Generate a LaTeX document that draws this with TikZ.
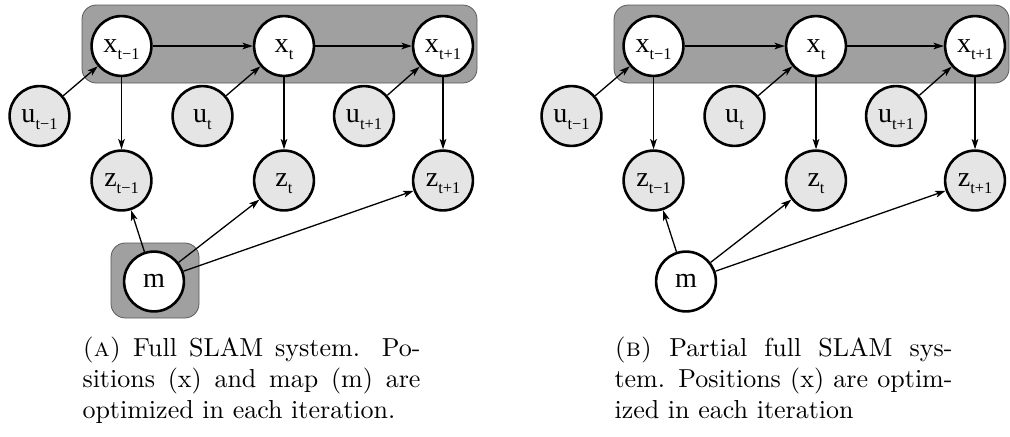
\documentclass[tikz,border=0pt]{standalone}
\usepackage{fontspec}
\usepackage{tikz}
\usetikzlibrary{arrows.meta}

\newfontfamily\netfont{Liberation Serif}
\definecolor{bandgray}{RGB}{160,160,160}
\definecolor{nodegray}{RGB}{229,229,229}
\newcommand{\vsub}[2]{#1\raisebox{-2.6pt}{\fontsize{6.3}{6.3}\selectfont #2}}

\begin{document}
\begin{tikzpicture}[
		x=0.3846pt, y=-0.3846pt,
		state/.style={
			circle,
			draw=black,
			line width=1pt,
			minimum size=23pt,
			inner sep=0pt,
			text height=4.8pt,
			text depth=0pt,
			font=\netfont\fontsize{10.8}{12}\selectfont
		},
		hidden/.style={state, fill=white},
		observed/.style={state, fill=nodegray},
		arrow/.style={
			line width=0.5pt,
			-{Stealth[length=4pt, width=2.6pt, inset=1pt]},
		},
		band/.style={
			fill=bandgray,
			draw=black!65,
			line width=0.3pt,
			rounded corners=5.5pt
		},
		caption/.style={
			anchor=north west,
			inner sep=0pt,
			text width=130pt,
			align=justify
		}
	]
	\useasboundingbox (0,0) rectangle (1010,436);
	
	% map box, only in (a)
	\draw[band] (111,243) rectangle (199,318);
	
	\foreach \p/\dx in {a/0, b/532} {
		\begin{scope}[shift={(\dx,0)}]
			\draw[band] (82,5) rectangle (477,83);
			\foreach \i/\xx/\ux/\s in {1/121.5/39.5/{t−1}, 2/284/202.5/t, 3/443/364/{t+1}} {
				\node[hidden] (\p x\i) at (\xx,46) {\vsub{x}{\s}};
				\node[observed] (\p u\i) at (\ux,116) {\vsub{u}{\s}};
				\node[observed] (\p z\i) at (\xx,180.5) {\vsub{z}{\s}};
				\draw[arrow] (\p u\i) -- (\p x\i);
				\draw[arrow] (\p x\i) -- (\p z\i);
			}
			\node[hidden] (\p m) at (154,281.5) {m};
			
			\draw[arrow] (\p x1) -- (\p x2);
			\draw[arrow] (\p x2) -- (\p x3);
			\draw[arrow] (\p m) -- (\p z1);
			\draw[arrow] (\p m) -- (\p z2);
			\draw[arrow] (\p m) -- (\p z3);
		\end{scope}
	}
	
	\node[caption] (capa) at (82,336) {\textsc{(a)} Full SLAM system. Po-\linebreak sitions (x) and map (m) are\linebreak optimized in each iteration.};
	\node[caption] (capb) at (614,336) {\textsc{(b)} Partial full SLAM sys-\linebreak tem. Positions (x) are optim-\linebreak ized in each iteration};
	
\end{tikzpicture}
\end{document}
